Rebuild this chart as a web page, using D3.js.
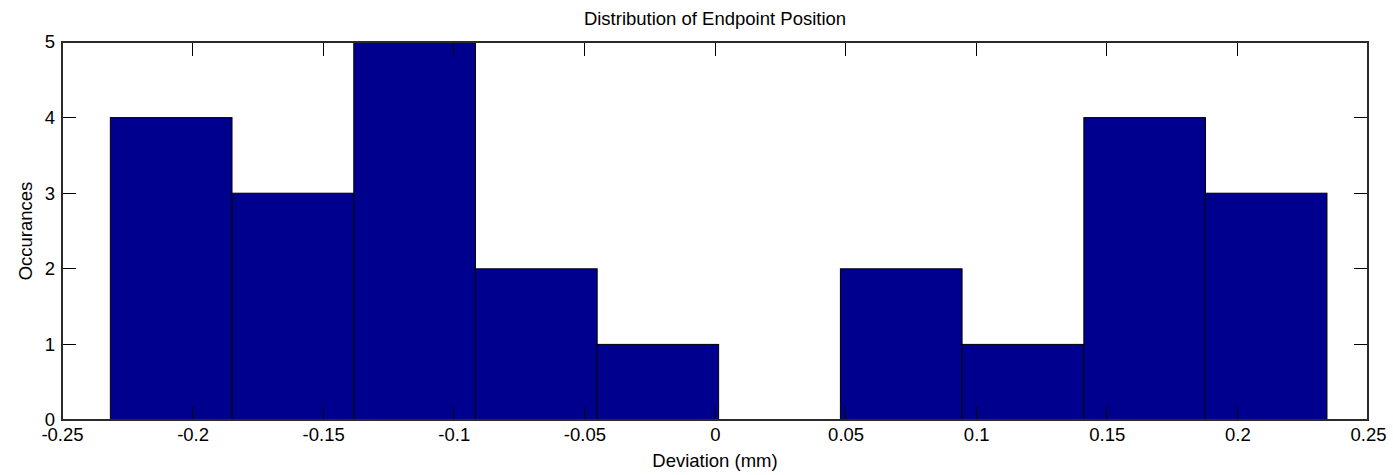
<!DOCTYPE html>
<html>
<head>
<meta charset="utf-8">
<script src="https://cdn.jsdelivr.net/npm/d3@7"></script>
<style>
  html, body { margin: 0; padding: 0; background: #fff; }
  svg text { font-family: "Liberation Sans", Arial, Helvetica, sans-serif; fill: #000; }
</style>
</head>
<body>
<svg id="chart" width="1393" height="475"></svg>
<script>
// Histogram bins (centres, in mm) and occurrence counts
const binCenters = [-0.2082, -0.1616, -0.1150, -0.0684, -0.0219, 0.0247, 0.0713, 0.1179, 0.1645, 0.2110];
const binWidth = 0.04658;
const counts = [4, 3, 5, 2, 1, 0, 2, 1, 4, 3];
const xTicks = [-0.25, -0.2, -0.15, -0.1, -0.05, 0, 0.05, 0.1, 0.15, 0.2, 0.25];
const yTicks = [0, 1, 2, 3, 4, 5];

const W = 1393, H = 475;
const margin = { top: 42, right: 25, bottom: 55, left: 62 };
const svg = d3.select("#chart");

const x = d3.scaleLinear().domain([-0.25, 0.25]).range([margin.left, W - margin.right]);
const y = d3.scaleLinear().domain([0, 5]).range([H - margin.bottom, margin.top]);

const fmt = d => (d === 0 ? "0" : String(d));
const FS = 18.5;
const tickLen = 14;

// bars
svg.append("g")
  .selectAll("rect")
  .data(binCenters.map((c, i) => ({ c, n: counts[i] })).filter(d => d.n > 0))
  .join("rect")
  .attr("x", d => x(d.c - binWidth / 2))
  .attr("width", d => x(d.c + binWidth / 2) - x(d.c - binWidth / 2))
  .attr("y", d => y(d.n))
  .attr("height", d => y(0) - y(d.n))
  .attr("fill", "#00008F")
  .attr("stroke", "#000")
  .attr("stroke-width", 1);

// box axes with inward ticks on all four sides
const axes = svg.append("g").attr("shape-rendering", "crispEdges");
const x0 = x.range()[0], x1 = x.range()[1], y0 = y.range()[0], y1 = y.range()[1];

const axBottom = d3.axisBottom(x).tickValues(xTicks).tickSize(0).tickPadding(8).tickFormat(fmt);
const gB = axes.append("g").attr("transform", `translate(0,${y0})`).call(axBottom);
gB.select(".domain").remove();
gB.selectAll("text").attr("font-size", FS).style("font-family", null);

const axLeft = d3.axisLeft(y).tickValues(yTicks).tickSize(0).tickPadding(7).tickFormat(fmt);
const gL = axes.append("g").attr("transform", `translate(${x0},0)`).call(axLeft);
gL.select(".domain").remove();
gL.selectAll("text").attr("font-size", FS).style("font-family", null);

// tick marks
const tickG = axes.append("g").attr("stroke", "#000").attr("stroke-width", 1);
xTicks.forEach(t => {
  tickG.append("line").attr("x1", x(t)).attr("x2", x(t)).attr("y1", y0).attr("y2", y0 - tickLen);
  tickG.append("line").attr("x1", x(t)).attr("x2", x(t)).attr("y1", y1).attr("y2", y1 + tickLen);
});
yTicks.forEach(t => {
  tickG.append("line").attr("y1", y(t)).attr("y2", y(t)).attr("x1", x0).attr("x2", x0 + tickLen);
  tickG.append("line").attr("y1", y(t)).attr("y2", y(t)).attr("x1", x1).attr("x2", x1 - tickLen);
});

// frame
axes.append("rect")
  .attr("x", x0).attr("y", y1)
  .attr("width", x1 - x0).attr("height", y0 - y1)
  .attr("fill", "none").attr("stroke", "#2a2a2a").attr("stroke-width", 1.5);

// titles
svg.append("text")
  .attr("x", (x0 + x1) / 2).attr("y", 25)
  .attr("text-anchor", "middle").attr("font-size", FS)
  .text("Distribution of Endpoint Position");

svg.append("text")
  .attr("x", (x0 + x1) / 2).attr("y", 467)
  .attr("text-anchor", "middle").attr("font-size", FS)
  .text("Deviation (mm)");

svg.append("text")
  .attr("transform", `translate(32,${(y0 + y1) / 2}) rotate(-90)`)
  .attr("text-anchor", "middle").attr("font-size", FS)
  .text("Occurances");
</script>
</body>
</html>
